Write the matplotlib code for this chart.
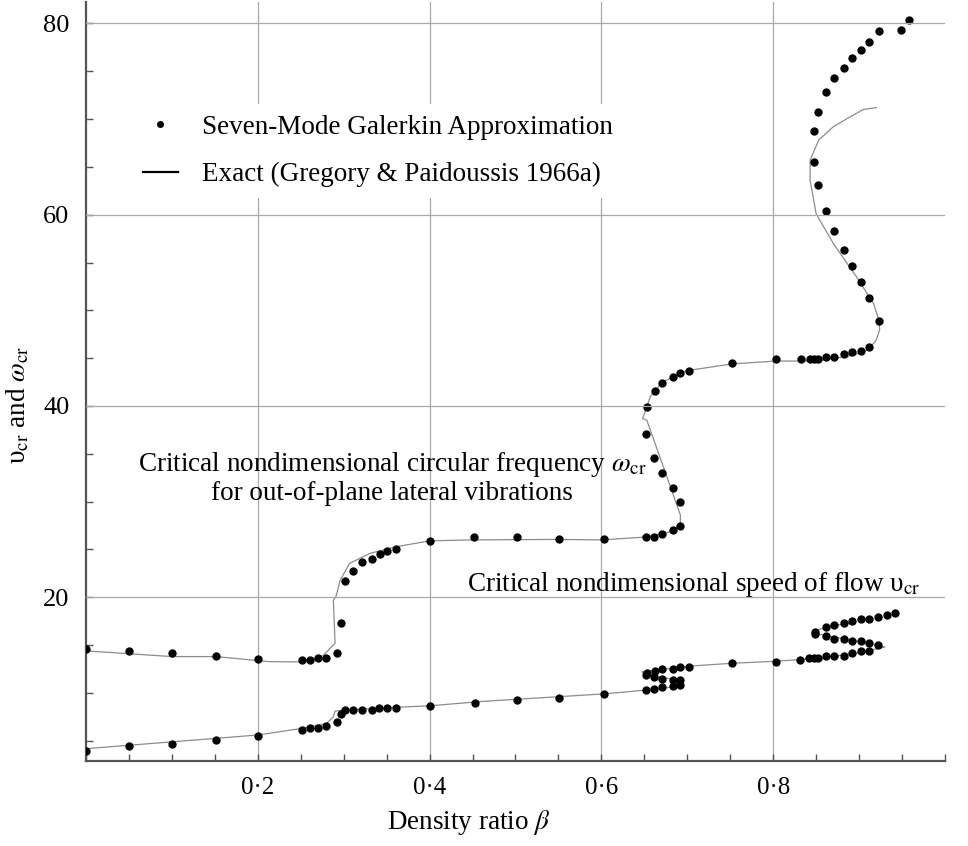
import matplotlib
matplotlib.use('Agg')
import matplotlib.pyplot as plt
from matplotlib.lines import Line2D
from matplotlib.ticker import MultipleLocator

plt.rcParams['font.family'] = ['Liberation Serif', 'DejaVu Serif']
plt.rcParams['mathtext.fontset'] = 'stix'

# omega_cr, seven-mode Galerkin (dots)
omega_beta = [0.0, 0.05, 0.10, 0.151, 0.2, 0.252, 0.261, 0.27, 0.28, 0.292,
              0.297, 0.302, 0.311, 0.321, 0.333, 0.342, 0.351, 0.361, 0.401, 0.452,
              0.502, 0.551, 0.603, 0.652, 0.661, 0.671, 0.683, 0.692, 0.692, 0.683,
              0.671, 0.661, 0.652, 0.653, 0.662, 0.671, 0.683, 0.692, 0.702, 0.752,
              0.803, 0.832, 0.843, 0.848, 0.852, 0.861, 0.871, 0.883, 0.892, 0.902,
              0.911, 0.923, 0.911, 0.902, 0.892, 0.883, 0.871, 0.862, 0.852, 0.848,
              0.848, 0.852, 0.862, 0.871, 0.883, 0.892, 0.902, 0.911, 0.923, 0.949,
              0.958]
omega_val = [14.56, 14.35, 14.14, 13.9, 13.5, 13.48, 13.48, 13.7, 13.7, 14.18,
             17.3, 21.7, 22.8, 23.66, 24.0, 24.5, 24.84, 25.1, 25.9, 26.3,
             26.3, 26.1, 26.1, 26.3, 26.3, 26.6, 27.0, 27.45, 30.0, 31.4,
             33.0, 34.6, 37.1, 39.9, 41.6, 42.4, 43.0, 43.5, 43.7, 44.5,
             44.9, 44.9, 44.9, 44.9, 44.9, 45.1, 45.1, 45.4, 45.6, 45.75,
             46.2, 48.9, 51.3, 52.96, 54.6, 56.3, 58.3, 60.35, 63.1, 65.5,
             68.8, 70.7, 72.8, 74.3, 75.3, 76.4, 77.25, 78.1, 79.2, 79.3,
             80.4]

# omega_cr, exact solution (line)
omega_exact_beta = [0.0, 0.10, 0.151, 0.213, 0.252, 0.276, 0.290, 0.288, 0.291, 0.296,
                    0.307, 0.331, 0.362, 0.40, 0.45, 0.55, 0.60, 0.652, 0.683, 0.692,
                    0.692, 0.653, 0.648, 0.653, 0.657, 0.67, 0.69, 0.70, 0.752, 0.803,
                    0.852, 0.893, 0.911, 0.920, 0.924, 0.923, 0.917, 0.897, 0.870, 0.850,
                    0.843, 0.843, 0.853, 0.870, 0.889, 0.905, 0.920]
omega_exact_val = [14.4, 13.8, 13.8, 13.27, 13.24, 13.9, 15.2, 19.7, 20.06, 21.8,
                   23.55, 24.6, 25.3, 25.9, 26.0, 26.05, 26.0, 26.3, 26.9, 27.7,
                   28.6, 38.5, 38.7, 39.9, 41.0, 42.4, 43.4, 43.7, 44.4, 44.7,
                   44.7, 45.3, 45.9, 46.9, 47.95, 49.0, 50.7, 53.5, 57.0, 60.1,
                   63.6, 65.7, 67.8, 69.2, 70.2, 71.0, 71.2]

# u_cr, seven-mode Galerkin (dots)
speed_beta = [0.0, 0.05, 0.10, 0.151, 0.2, 0.252, 0.261, 0.27, 0.28, 0.292,
              0.297, 0.302, 0.311, 0.321, 0.333, 0.341, 0.351, 0.361, 0.40, 0.453,
              0.502, 0.551, 0.603,
              0.652, 0.661, 0.671, 0.683, 0.692,
              0.692, 0.683, 0.671, 0.661, 0.652,
              0.653, 0.662, 0.671, 0.683, 0.692, 0.702,
              0.752, 0.803, 0.831, 0.842, 0.847, 0.852, 0.862, 0.871, 0.883, 0.892,
              0.902, 0.911, 0.922,
              0.911, 0.902, 0.892, 0.883, 0.871, 0.862, 0.849,
              0.849, 0.862, 0.871, 0.883, 0.892, 0.902, 0.911, 0.922, 0.932, 0.942]
speed_val = [3.96, 4.42, 4.63, 5.05, 5.5, 6.13, 6.33, 6.33, 6.54, 6.96,
             7.8, 8.2, 8.2, 8.2, 8.2, 8.4, 8.4, 8.4, 8.63, 8.95,
             9.26, 9.5, 9.9,
             10.3, 10.45, 10.6, 10.75, 10.85,
             11.4, 11.3, 11.5, 11.7, 11.9,
             12.12, 12.33, 12.54, 12.54, 12.75, 12.75,
             13.1, 13.27, 13.44, 13.6, 13.6, 13.6, 13.9, 13.9, 13.9, 14.14,
             14.35, 14.42, 14.98,
             15.2, 15.4, 15.4, 15.6, 15.6, 15.9, 16.16,
             16.4, 16.9, 17.1, 17.3, 17.5, 17.7, 17.7, 17.9, 18.15, 18.35]

# u_cr, exact solution (line)
speed_exact_beta = [0.0, 0.2, 0.252, 0.28, 0.288, 0.290, 0.300, 0.361, 0.40, 0.459,
                    0.603, 0.652, 0.692, 0.692, 0.652, 0.647, 0.702, 0.752, 0.80, 0.852,
                    0.90, 0.93, 0.922, 0.85, 0.847, 0.89]
speed_exact_val = [4.17, 5.6, 6.3, 6.8, 7.5, 8.1, 8.2, 8.5, 8.65, 9.1,
                   9.9, 10.3, 10.7, 11.3, 11.9, 12.2, 12.8, 13.1, 13.3, 13.6,
                   14.2, 14.8, 15.0, 16.2, 16.5, 17.4]

xtick_vals = [0.2, 0.4, 0.6, 0.8]
xtick_labels = ['0\u00b72', '0\u00b74', '0\u00b76', '0\u00b78']
ytick_vals = [20, 40, 60, 80]

fig = plt.figure(figsize=(9.68, 8.46), dpi=100)
ax = fig.add_axes([0.0888, 0.1001, 0.8874, 0.8971])

grid_c = '#a8a8a8'
for v in xtick_vals:
    ax.axvline(v, color=grid_c, lw=0.9, zorder=1)
for v in ytick_vals:
    ax.axhline(v, color=grid_c, lw=0.9, zorder=6)

line_c = '#8c8c8c'
ax.plot(omega_exact_beta, omega_exact_val, color=line_c, lw=0.9, zorder=2)
ax.plot(speed_exact_beta, speed_exact_val, color=line_c, lw=0.9, zorder=2)
ax.plot(omega_beta, omega_val, 'o', color='k', ms=6, mec='none', zorder=3)
ax.plot(speed_beta, speed_val, 'o', color='k', ms=6, mec='none', zorder=3)

ax.set_xlim(0, 1.0)
ax.set_ylim(2.85, 82.2)
ax.set_xticks(xtick_vals)
ax.set_xticklabels(xtick_labels)
ax.set_yticks(ytick_vals)
ax.xaxis.set_minor_locator(MultipleLocator(0.05))
ax.yaxis.set_minor_locator(MultipleLocator(5))
ax.tick_params(axis='x', which='both', direction='in', length=5, width=1,
               color='#555555', labelsize=18, pad=11)
ax.tick_params(axis='y', which='both', direction='in', length=5, width=1,
               color='#555555', labelsize=19, pad=12)

for s in ['top', 'right']:
    ax.spines[s].set_visible(False)
for s in ['left', 'bottom']:
    ax.spines[s].set_color('#555555')
    ax.spines[s].set_linewidth(1.6)

ax.set_xlabel(r'Density ratio $\beta$', fontsize=19.5, va='center')
ax.xaxis.set_label_coords(0.446, -0.081)
ax.set_ylabel('\u03c5$_{\\rm cr}$ and $\\omega_{\\rm cr}$', fontsize=19.5, va='center')
ax.yaxis.set_label_coords(-0.079, 0.469)

ax.text(0.356, 32.45,
        'Critical nondimensional circular frequency $\\omega_{\\rm cr}$\n'
        'for out-of-plane lateral vibrations',
        ha='center', va='center', multialignment='center', fontsize=19.5,
        linespacing=1.12, zorder=4)
ax.text(0.708, 20.66, '\u0043ritical nondimensional speed of flow \u03c5$_{\\rm cr}$',
        ha='center', va='baseline', fontsize=19.5, zorder=4)

handles = [Line2D([], [], marker='o', ls='none', color='k', ms=4),
           Line2D([], [], color='k', lw=1.6)]
labels = ['Seven-Mode Galerkin Approximation', 'Exact (Gregory & Paidoussis 1966a)']
leg = ax.legend(handles, labels, loc='upper left', bbox_to_anchor=(0.0535, 0.866),
                borderaxespad=0, fontsize=19.5, frameon=True, facecolor='white',
                edgecolor='none', framealpha=1, fancybox=False,
                handlelength=1.3, handletextpad=0.9, labelspacing=0.82)
leg.set_zorder(5)

plt.savefig('out.png', dpi=100)
